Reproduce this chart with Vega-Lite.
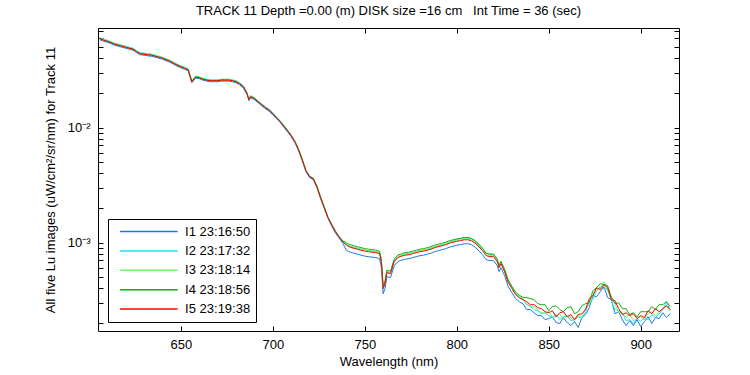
{
"$schema":"https://vega.github.io/schema/vega-lite/v6.json",
"width":581,"height":303,
"autosize":"none",
"padding":{"left":98,"top":28,"right":71,"bottom":44},
"background":"white",
"config":{"view":{"stroke":null},"font":"Liberation Sans",
 "axis":{"domainColor":"black","tickColor":"black","labelColor":"black","titleColor":"black","labelFont":"Liberation Sans","titleFont":"Liberation Sans","labelFontSize":13,"titleFontSize":13,"titleFontWeight":"normal","grid":false,"domainWidth":1,"tickWidth":1,"labelOverlap":false,"labelFlush":false}},
"title":{"text":"TRACK 11 Depth =0.00 (m) DISK size =16 cm\u00a0\u00a0\u00a0Int Time = 36 (sec)","fontSize":13,"fontWeight":"normal","font":"Liberation Sans","color":"black","offset":7,"anchor":"middle"},
"data":{"values":[
{"w":606,"a":0.0582,"b":0.0606,"c":0.0600,"d":0.0594,"e":0.0594},
{"w":608,"a":0.0565,"b":0.0589,"c":0.0583,"d":0.0577,"e":0.0577},
{"w":610,"a":0.0554,"b":0.0576,"c":0.0571,"d":0.0566,"e":0.0565},
{"w":612,"a":0.0538,"b":0.0560,"c":0.0554,"d":0.0550,"e":0.0549},
{"w":614,"a":0.0521,"b":0.0543,"c":0.0537,"d":0.0533,"e":0.0532},
{"w":616,"a":0.0512,"b":0.0532,"c":0.0527,"d":0.0523,"e":0.0522},
{"w":618,"a":0.0501,"b":0.0521,"c":0.0516,"d":0.0512,"e":0.0511},
{"w":620,"a":0.0491,"b":0.0511,"c":0.0506,"d":0.0502,"e":0.0501},
{"w":622,"a":0.0481,"b":0.0501,"c":0.0496,"d":0.0492,"e":0.0491},
{"w":624,"a":0.0472,"b":0.0492,"c":0.0487,"d":0.0483,"e":0.0482},
{"w":626,"a":0.0449,"b":0.0467,"c":0.0463,"d":0.0459,"e":0.0458},
{"w":628,"a":0.0431,"b":0.0449,"c":0.0444,"d":0.0441,"e":0.0440},
{"w":630,"a":0.0427,"b":0.0445,"c":0.0440,"d":0.0437,"e":0.0436},
{"w":632,"a":0.0422,"b":0.0440,"c":0.0435,"d":0.0432,"e":0.0431},
{"w":634,"a":0.0418,"b":0.0436,"c":0.0431,"d":0.0428,"e":0.0427},
{"w":636,"a":0.0411,"b":0.0427,"c":0.0423,"d":0.0420,"e":0.0419},
{"w":638,"a":0.0402,"b":0.0418,"c":0.0414,"d":0.0411,"e":0.0410},
{"w":640,"a":0.0394,"b":0.0410,"c":0.0406,"d":0.0403,"e":0.0402},
{"w":642,"a":0.0382,"b":0.0398,"c":0.0394,"d":0.0391,"e":0.0390},
{"w":644,"a":0.0371,"b":0.0387,"c":0.0383,"d":0.0380,"e":0.0379},
{"w":646,"a":0.0357,"b":0.0371,"c":0.0368,"d":0.0365,"e":0.0364},
{"w":648,"a":0.0343,"b":0.0357,"c":0.0354,"d":0.0351,"e":0.0350},
{"w":650,"a":0.0332,"b":0.0346,"c":0.0342,"d":0.0340,"e":0.0339},
{"w":652,"a":0.0322,"b":0.0336,"c":0.0332,"d":0.0330,"e":0.0329},
{"w":654,"a":0.0313,"b":0.0325,"c":0.0322,"d":0.0320,"e":0.0319},
{"w":656,"a":0.0246,"b":0.0256,"c":0.0254,"d":0.0252,"e":0.0251},
{"w":658,"a":0.0270,"b":0.0281,"c":0.0278,"d":0.0276,"e":0.0275},
{"w":660,"a":0.0267,"b":0.0277,"c":0.0275,"d":0.0273,"e":0.0272},
{"w":662,"a":0.0259,"b":0.0269,"c":0.0267,"d":0.0265,"e":0.0264},
{"w":664,"a":0.0254,"b":0.0264,"c":0.0262,"d":0.0260,"e":0.0259},
{"w":666,"a":0.0251,"b":0.0261,"c":0.0259,"d":0.0257,"e":0.0256},
{"w":668,"a":0.0251,"b":0.0261,"c":0.0259,"d":0.0257,"e":0.0256},
{"w":670,"a":0.0251,"b":0.0261,"c":0.0259,"d":0.0257,"e":0.0256},
{"w":672,"a":0.0254,"b":0.0264,"c":0.0262,"d":0.0260,"e":0.0259},
{"w":674,"a":0.0254,"b":0.0264,"c":0.0262,"d":0.0260,"e":0.0259},
{"w":676,"a":0.0254,"b":0.0264,"c":0.0262,"d":0.0260,"e":0.0259},
{"w":678,"a":0.0251,"b":0.0261,"c":0.0259,"d":0.0257,"e":0.0256},
{"w":680,"a":0.0246,"b":0.0256,"c":0.0254,"d":0.0252,"e":0.0251},
{"w":682,"a":0.0236,"b":0.0246,"c":0.0243,"d":0.0242,"e":0.0241},
{"w":684,"a":0.0222,"b":0.0232,"c":0.0229,"d":0.0228,"e":0.0227},
{"w":686,"a":0.0194,"b":0.0202,"c":0.0200,"d":0.0199,"e":0.0198},
{"w":687,"a":0.0172,"b":0.0179,"c":0.0177,"d":0.0176,"e":0.0175},
{"w":688,"a":0.0182,"b":0.0190,"c":0.0188,"d":0.0187,"e":0.0186},
{"w":690,"a":0.0175,"b":0.0183,"c":0.0181,"d":0.0180,"e":0.0179},
{"w":692,"a":0.0165,"b":0.0171,"c":0.0170,"d":0.0169,"e":0.0168},
{"w":694,"a":0.0155,"b":0.0161,"c":0.0160,"d":0.0159,"e":0.0158},
{"w":696,"a":0.0146,"b":0.0152,"c":0.0150,"d":0.0150,"e":0.0149},
{"w":698,"a":0.0139,"b":0.0145,"c":0.0143,"d":0.0143,"e":0.0142},
{"w":700,"a":0.0129,"b":0.0135,"c":0.0133,"d":0.0133,"e":0.0132},
{"w":702,"a":0.0120,"b":0.0124,"c":0.0123,"d":0.0122,"e":0.0122},
{"w":704,"a":0.0111,"b":0.0115,"c":0.0114,"d":0.0113,"e":0.0113},
{"w":706,"a":0.0101,"b":0.0105,"c":0.0104,"d":0.0103,"e":0.0103},
{"w":708,"a":0.00923,"b":0.00956,"c":0.00947,"d":0.00945,"e":0.00942},
{"w":710,"a":0.00835,"b":0.00865,"c":0.00856,"d":0.00855,"e":0.00852},
{"w":712,"a":0.00741,"b":0.00767,"c":0.00760,"d":0.00758,"e":0.00756},
{"w":714,"a":0.00631,"b":0.00654,"c":0.00647,"d":0.00646,"e":0.00644},
{"w":716,"a":0.00516,"b":0.00535,"c":0.00530,"d":0.00529,"e":0.00527},
{"w":718,"a":0.00415,"b":0.00429,"c":0.00425,"d":0.00424,"e":0.00423},
{"w":720,"a":0.00368,"b":0.00381,"c":0.00377,"d":0.00376,"e":0.00375},
{"w":722,"a":0.00353,"b":0.00365,"c":0.00362,"d":0.00361,"e":0.00360},
{"w":724,"a":0.00301,"b":0.00312,"c":0.00309,"d":0.00308,"e":0.00307},
{"w":726,"a":0.00241,"b":0.00250,"c":0.00247,"d":0.00247,"e":0.00246},
{"w":728,"a":0.00198,"b":0.00205,"c":0.00203,"d":0.00203,"e":0.00202},
{"w":730,"a":0.00162,"b":0.00167,"c":0.00166,"d":0.00166,"e":0.00165},
{"w":732,"a":0.00140,"b":0.00145,"c":0.00144,"d":0.00144,"e":0.00143},
{"w":734,"a":0.00122,"b":0.00127,"c":0.00126,"d":0.00126,"e":0.00125},
{"w":736,"a":0.00110,"b":0.00113,"c":0.00113,"d":0.00113,"e":0.00112},
{"w":738,"a":0.000990,"b":0.00104,"c":0.00103,"d":0.00104,"e":0.00102},
{"w":740,"a":0.000861,"b":0.000970,"c":0.000970,"d":0.000999,"e":0.000951},
{"w":742,"a":0.000827,"b":0.000932,"c":0.000932,"d":0.000961,"e":0.000914},
{"w":744,"a":0.000811,"b":0.000914,"c":0.000914,"d":0.000942,"e":0.000896},
{"w":746,"a":0.000795,"b":0.000896,"c":0.000896,"d":0.000923,"e":0.000878},
{"w":748,"a":0.000779,"b":0.000878,"c":0.000878,"d":0.000905,"e":0.000861},
{"w":750,"a":0.000764,"b":0.000861,"c":0.000861,"d":0.000887,"e":0.000844},
{"w":752,"a":0.000756,"b":0.000852,"c":0.000852,"d":0.000878,"e":0.000835},
{"w":754,"a":0.000748,"b":0.000844,"c":0.000844,"d":0.000869,"e":0.000827},
{"w":756,"a":0.000741,"b":0.000835,"c":0.000835,"d":0.000861,"e":0.000819},
{"w":758,"a":0.000727,"b":0.000819,"c":0.000819,"d":0.000844,"e":0.000803},
{"w":759,"a":0.000619,"b":0.000698,"c":0.000698,"d":0.000719,"e":0.000684},
{"w":760,"a":0.000360,"b":0.000406,"c":0.000406,"d":0.000418,"e":0.000398},
{"w":761,"a":0.000398,"b":0.000449,"c":0.000449,"d":0.000462,"e":0.000440},
{"w":762,"a":0.000506,"b":0.000559,"c":0.000559,"d":0.000576,"e":0.000548},
{"w":764,"a":0.000497,"b":0.000549,"c":0.000549,"d":0.000565,"e":0.000538},
{"w":766,"a":0.000631,"b":0.000698,"c":0.000698,"d":0.000719,"e":0.000684},
{"w":768,"a":0.000684,"b":0.000756,"c":0.000756,"d":0.000779,"e":0.000741},
{"w":770,"a":0.000704,"b":0.000778,"c":0.000778,"d":0.000802,"e":0.000763},
{"w":772,"a":0.000719,"b":0.000795,"c":0.000795,"d":0.000819,"e":0.000779},
{"w":774,"a":0.000726,"b":0.000803,"c":0.000803,"d":0.000827,"e":0.000787},
{"w":776,"a":0.000741,"b":0.000819,"c":0.000819,"d":0.000844,"e":0.000803},
{"w":778,"a":0.000756,"b":0.000835,"c":0.000835,"d":0.000861,"e":0.000819},
{"w":780,"a":0.000771,"b":0.000852,"c":0.000852,"d":0.000878,"e":0.000835},
{"w":782,"a":0.000779,"b":0.000861,"c":0.000861,"d":0.000887,"e":0.000844},
{"w":784,"a":0.000795,"b":0.000878,"c":0.000878,"d":0.000905,"e":0.000861},
{"w":786,"a":0.000810,"b":0.000896,"c":0.000896,"d":0.000923,"e":0.000878},
{"w":788,"a":0.000835,"b":0.000923,"c":0.000923,"d":0.000951,"e":0.000905},
{"w":790,"a":0.000852,"b":0.000941,"c":0.000941,"d":0.000970,"e":0.000923},
{"w":792,"a":0.000869,"b":0.000961,"c":0.000961,"d":0.000990,"e":0.000942},
{"w":794,"a":0.000887,"b":0.000980,"c":0.000980,"d":0.00101,"e":0.000961},
{"w":796,"a":0.000914,"b":0.00101,"c":0.00101,"d":0.00104,"e":0.000990},
{"w":798,"a":0.000932,"b":0.00104,"c":0.00103,"d":0.00106,"e":0.00101},
{"w":800,"a":0.000951,"b":0.00107,"c":0.00105,"d":0.00108,"e":0.00103},
{"w":802,"a":0.000960,"b":0.00108,"c":0.00106,"d":0.00109,"e":0.00104},
{"w":804,"a":0.000978,"b":0.00110,"c":0.00108,"d":0.00111,"e":0.00106},
{"w":806,"a":0.000978,"b":0.00110,"c":0.00108,"d":0.00111,"e":0.00106},
{"w":808,"a":0.000960,"b":0.00108,"c":0.00106,"d":0.00109,"e":0.00104},
{"w":810,"a":0.000914,"b":0.00103,"c":0.00101,"d":0.00104,"e":0.000990},
{"w":812,"a":0.000852,"b":0.000961,"c":0.000941,"d":0.000970,"e":0.000923},
{"w":814,"a":0.000786,"b":0.000887,"c":0.000869,"d":0.000895,"e":0.000852},
{"w":816,"a":0.000712,"b":0.000810,"c":0.000786,"d":0.000810,"e":0.000771},
{"w":818,"a":0.000698,"b":0.000795,"c":0.000771,"d":0.000795,"e":0.000756},
{"w":820,"a":0.000698,"b":0.000795,"c":0.000771,"d":0.000795,"e":0.000756},
{"w":822,"a":0.000631,"b":0.000712,"c":0.000698,"d":0.000719,"e":0.000684},
{"w":823,"a":0.000559,"b":0.000618,"c":0.000618,"d":0.000637,"e":0.000606},
{"w":824,"a":0.000606,"b":0.000670,"c":0.000670,"d":0.000690,"e":0.000657},
{"w":826,"a":0.000517,"b":0.000571,"c":0.000571,"d":0.000589,"e":0.000560},
{"w":828,"a":0.000414,"b":0.000458,"c":0.000458,"d":0.000472,"e":0.000449},
{"w":830,"a":0.000367,"b":0.000406,"c":0.000406,"d":0.000418,"e":0.000398},
{"w":832,"a":0.000326,"b":0.000360,"c":0.000360,"d":0.000371,"e":0.000353},
{"w":834,"a":0.000306,"b":0.000339,"c":0.000339,"d":0.000349,"e":0.000332},
{"w":836,"a":0.000294,"b":0.000325,"c":0.000325,"d":0.000335,"e":0.000319},
{"w":838,"a":2.62e-4,"b":2.89e-4,"c":2.95e-4,"d":3.33e-4,"e":3.07e-4},
{"w":840,"a":2.62e-4,"b":2.83e-4,"c":2.78e-4,"d":3.26e-4,"e":2.89e-4},
{"w":842,"a":2.46e-4,"b":2.62e-4,"c":2.78e-4,"d":3.20e-4,"e":2.89e-4},
{"w":844,"a":2.32e-4,"b":2.56e-4,"c":2.62e-4,"d":2.95e-4,"e":2.72e-4},
{"w":846,"a":2.32e-4,"b":2.41e-4,"c":2.46e-4,"d":2.89e-4,"e":2.67e-4},
{"w":848,"a":2.14e-4,"b":2.46e-4,"c":2.46e-4,"d":2.89e-4,"e":2.51e-4},
{"w":850,"a":2.19e-4,"b":2.32e-4,"c":2.51e-4,"d":2.56e-4,"e":2.46e-4},
{"w":852,"a":2.27e-4,"b":2.23e-4,"c":2.27e-4,"d":2.78e-4,"e":2.56e-4},
{"w":854,"a":2.02e-4,"b":2.37e-4,"c":2.27e-4,"d":2.83e-4,"e":2.27e-4},
{"w":856,"a":1.98e-4,"b":2.14e-4,"c":2.41e-4,"d":2.62e-4,"e":2.46e-4},
{"w":858,"a":2.23e-4,"b":2.27e-4,"c":2.14e-4,"d":2.51e-4,"e":2.51e-4},
{"w":860,"a":2.02e-4,"b":2.32e-4,"c":2.32e-4,"d":2.72e-4,"e":2.27e-4},
{"w":862,"a":1.90e-4,"b":2.10e-4,"c":2.23e-4,"d":2.78e-4,"e":2.37e-4},
{"w":864,"a":2.06e-4,"b":2.14e-4,"c":2.10e-4,"d":2.41e-4,"e":2.14e-4},
{"w":866,"a":1.83e-4,"b":2.27e-4,"c":2.32e-4,"d":2.51e-4,"e":2.37e-4},
{"w":868,"a":2.23e-4,"b":2.19e-4,"c":2.27e-4,"d":2.83e-4,"e":2.41e-4},
{"w":870,"a":2.37e-4,"b":2.51e-4,"c":2.72e-4,"d":2.95e-4,"e":2.62e-4},
{"w":872,"a":2.72e-4,"b":3.07e-4,"c":2.89e-4,"d":3.01e-4,"e":3.26e-4},
{"w":874,"a":3.46e-4,"b":3.20e-4,"c":3.53e-4,"d":3.83e-4,"e":3.46e-4},
{"w":876,"a":3.39e-4,"b":3.83e-4,"c":3.98e-4,"d":4.06e-4,"e":4.06e-4},
{"w":878,"a":3.75e-4,"b":4.14e-4,"c":3.98e-4,"d":4.40e-4,"e":3.90e-4},
{"w":880,"a":4.14e-4,"b":3.98e-4,"c":4.58e-4,"d":4.31e-4,"e":4.31e-4},
{"w":882,"a":3.33e-4,"b":3.98e-4,"c":3.83e-4,"d":4.23e-4,"e":4.06e-4},
{"w":884,"a":3.20e-4,"b":3.13e-4,"c":3.33e-4,"d":3.39e-4,"e":3.20e-4},
{"w":886,"a":2.41e-4,"b":2.62e-4,"c":2.95e-4,"d":2.95e-4,"e":3.13e-4},
{"w":888,"a":2.51e-4,"b":2.56e-4,"c":2.46e-4,"d":3.01e-4,"e":2.67e-4},
{"w":890,"a":2.14e-4,"b":2.46e-4,"c":2.46e-4,"d":2.67e-4,"e":2.37e-4},
{"w":892,"a":1.90e-4,"b":2.10e-4,"c":2.23e-4,"d":2.67e-4,"e":2.46e-4},
{"w":894,"a":2.10e-4,"b":2.14e-4,"c":2.37e-4,"d":2.37e-4,"e":2.32e-4},
{"w":896,"a":1.90e-4,"b":1.98e-4,"c":2.10e-4,"d":2.46e-4,"e":2.41e-4},
{"w":898,"a":2.14e-4,"b":2.19e-4,"c":2.19e-4,"d":2.27e-4,"e":2.19e-4},
{"w":900,"a":1.86e-4,"b":2.06e-4,"c":2.27e-4,"d":2.51e-4,"e":2.32e-4},
{"w":902,"a":2.06e-4,"b":2.23e-4,"c":2.14e-4,"d":2.51e-4,"e":2.23e-4},
{"w":904,"a":2.27e-4,"b":2.14e-4,"c":2.41e-4,"d":2.51e-4,"e":2.56e-4},
{"w":906,"a":1.98e-4,"b":2.37e-4,"c":2.51e-4,"d":2.78e-4,"e":2.41e-4},
{"w":908,"a":2.23e-4,"b":2.23e-4,"c":2.32e-4,"d":2.62e-4,"e":2.67e-4},
{"w":910,"a":2.19e-4,"b":2.41e-4,"c":2.46e-4,"d":2.89e-4,"e":2.51e-4},
{"w":912,"a":2.46e-4,"b":2.62e-4,"c":2.67e-4,"d":2.89e-4,"e":2.67e-4},
{"w":914,"a":2.23e-4,"b":3.07e-4,"c":2.83e-4,"d":3.07e-4,"e":2.83e-4},
{"w":916,"a":2.41e-4,"b":2.56e-4,"c":2.56e-4,"d":2.78e-4,"e":2.62e-4}
]},
"transform":[{"fold":["a","b","c","d","e"],"as":["s","v"]}],
"layer":[
 {"mark":{"type":"line","strokeWidth":1,"clip":true},
  "encoding":{
   "x":{"field":"w","type":"quantitative","scale":{"domain":[605,920.8],"nice":false,"zero":false},
        "axis":{"orient":"bottom","values":[650,700,750,800,850,900],"title":"Wavelength (nm)","tickSize":-5,"labelPadding":12,"titlePadding":4}},
   "y":{"field":"v","type":"quantitative","scale":{"type":"log","domain":[0.0001706,0.0736],"nice":false},
        "axis":{"orient":"left","values":[0.0002,0.0003,0.0004,0.0005,0.0006,0.0007,0.0008,0.0009,0.001,0.002,0.003,0.004,0.005,0.006,0.007,0.008,0.009,0.01,0.02,0.03,0.04,0.05,0.06,0.07],
                "labelExpr":"datum.value == 0.001 ? '10\u207b\u00b3' : (datum.value == 0.01 ? '10\u207b\u00b2' : '')",
                "title":"All five Lu images (uW/cm\u00b2/sr/nm) for Track 11","tickSize":-5,"labelPadding":13,"titlePadding":10}},
   "color":{"field":"s","type":"nominal","scale":{"domain":["a","b","c","d","e"],"range":["#1e78e6","#20e0f0","#66ff66","#10b010","#ff0000"]},
        "legend":{"orient":"none","legendX":10,"legendY":191,"title":null,"padding":5.5,"strokeColor":"black","fillColor":"white",
                  "symbolType":"M-0.1,0H9.85","symbolSize":134.6,"symbolStrokeWidth":1.5,"labelOffset":57.6,"labelFontSize":13,"labelColor":"black","labelFont":"Liberation Sans","rowPadding":5.4,
                  "labelExpr":"datum.label == 'a' ? 'I1 23:16:50\u00a0\u00a0\u00a0' : datum.label == 'b' ? 'I2 23:17:32\u00a0\u00a0\u00a0' : datum.label == 'c' ? 'I3 23:18:14\u00a0\u00a0\u00a0' : datum.label == 'd' ? 'I4 23:18:56\u00a0\u00a0\u00a0' : 'I5 23:19:38\u00a0\u00a0\u00a0'"}}
  }},
 {"mark":{"type":"point","opacity":0},
  "encoding":{
   "x":{"field":"w","type":"quantitative","scale":{"domain":[605,920.8],"nice":false,"zero":false},
        "axis":{"orient":"top","values":[650,700,750,800,850,900],"labels":false,"title":null,"tickSize":-5}},
   "y":{"field":"v","type":"quantitative","scale":{"type":"log","domain":[0.0001706,0.0736],"nice":false},
        "axis":{"orient":"right","values":[0.0002,0.0003,0.0004,0.0005,0.0006,0.0007,0.0008,0.0009,0.001,0.002,0.003,0.004,0.005,0.006,0.007,0.008,0.009,0.01,0.02,0.03,0.04,0.05,0.06,0.07],"labels":false,"title":null,"tickSize":-5}}
  }}
],
"resolve":{"axis":{"x":"independent","y":"independent"}}
}
